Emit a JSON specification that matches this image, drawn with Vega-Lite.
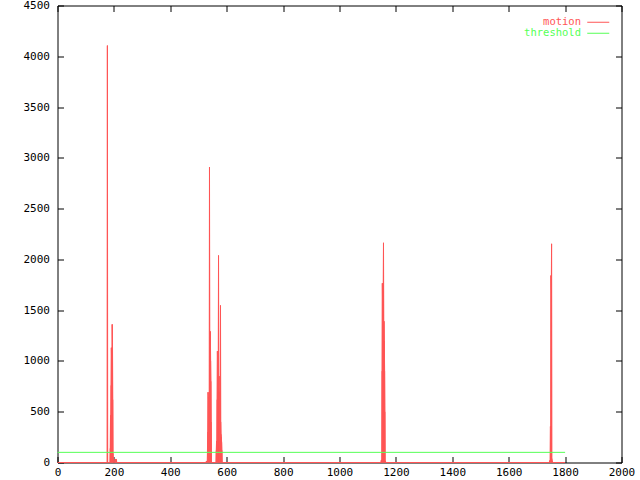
{
  "$schema": "https://vega.github.io/schema/vega-lite/v6.json",
  "width": 564,
  "height": 457,
  "autosize": {"type": "none"},
  "padding": {"left": 57.5, "top": 5.5, "right": 18.5, "bottom": 17.5},
  "background": "white",
  "config": {
    "view": {"stroke": "black", "strokeWidth": 1},
    "font": "DejaVu Sans Mono",
    "axis": {
      "grid": false,
      "domain": false,
      "ticks": true,
      "tickColor": "black",
      "tickSize": -6,
      "tickWidth": 1,
      "labelFont": "DejaVu Sans Mono",
      "labelFontSize": 11,
      "labelColor": "black",
      "labelFlush": false,
      "labelOverlap": false,
      "format": "d",
      "title": null
    }
  },
  "datasets": {
    "motion": [
      {"frame": 0, "value": 0},
      {"frame": 176, "value": 0},
      {"frame": 177, "value": 4105},
      {"frame": 178, "value": 0},
      {"frame": 186, "value": 0},
      {"frame": 187, "value": 140},
      {"frame": 188, "value": 463},
      {"frame": 189, "value": 410},
      {"frame": 190, "value": 760},
      {"frame": 191, "value": 1130},
      {"frame": 192, "value": 980},
      {"frame": 193, "value": 720},
      {"frame": 194, "value": 1360},
      {"frame": 195, "value": 1180},
      {"frame": 196, "value": 620},
      {"frame": 197, "value": 90},
      {"frame": 198, "value": 0},
      {"frame": 203, "value": 0},
      {"frame": 204, "value": 28},
      {"frame": 205, "value": 32},
      {"frame": 206, "value": 30},
      {"frame": 207, "value": 31},
      {"frame": 208, "value": 29},
      {"frame": 209, "value": 30},
      {"frame": 210, "value": 0},
      {"frame": 527, "value": 0},
      {"frame": 528, "value": 12},
      {"frame": 529, "value": 15},
      {"frame": 530, "value": 10},
      {"frame": 531, "value": 0},
      {"frame": 533, "value": 300},
      {"frame": 534, "value": 692},
      {"frame": 535, "value": 650},
      {"frame": 536, "value": 580},
      {"frame": 537, "value": 450},
      {"frame": 538, "value": 600},
      {"frame": 539, "value": 2908},
      {"frame": 540, "value": 1290},
      {"frame": 541, "value": 1100},
      {"frame": 542, "value": 1290},
      {"frame": 543, "value": 1000},
      {"frame": 544, "value": 800},
      {"frame": 545, "value": 400},
      {"frame": 546, "value": 0},
      {"frame": 562, "value": 0},
      {"frame": 563, "value": 120},
      {"frame": 564, "value": 210},
      {"frame": 565, "value": 190},
      {"frame": 566, "value": 620},
      {"frame": 567, "value": 1096},
      {"frame": 568, "value": 980},
      {"frame": 569, "value": 700},
      {"frame": 570, "value": 900},
      {"frame": 571, "value": 2038},
      {"frame": 572, "value": 760},
      {"frame": 573, "value": 850},
      {"frame": 574, "value": 700},
      {"frame": 575, "value": 600},
      {"frame": 576, "value": 480},
      {"frame": 577, "value": 500},
      {"frame": 578, "value": 1546},
      {"frame": 579, "value": 400},
      {"frame": 580, "value": 279},
      {"frame": 581, "value": 250},
      {"frame": 582, "value": 200},
      {"frame": 583, "value": 120},
      {"frame": 584, "value": 0},
      {"frame": 1147, "value": 0},
      {"frame": 1148, "value": 20},
      {"frame": 1149, "value": 25},
      {"frame": 1150, "value": 18},
      {"frame": 1151, "value": 900},
      {"frame": 1152, "value": 1765},
      {"frame": 1153, "value": 1500},
      {"frame": 1154, "value": 1200},
      {"frame": 1155, "value": 1700},
      {"frame": 1156, "value": 2163},
      {"frame": 1157, "value": 1391},
      {"frame": 1158, "value": 1391},
      {"frame": 1159, "value": 1200},
      {"frame": 1160, "value": 900},
      {"frame": 1161, "value": 500},
      {"frame": 1162, "value": 20},
      {"frame": 1163, "value": 15},
      {"frame": 1164, "value": 0},
      {"frame": 1744, "value": 0},
      {"frame": 1745, "value": 15},
      {"frame": 1746, "value": 20},
      {"frame": 1747, "value": 25},
      {"frame": 1748, "value": 354},
      {"frame": 1749, "value": 300},
      {"frame": 1750, "value": 1841},
      {"frame": 1751, "value": 1700},
      {"frame": 1752, "value": 2153},
      {"frame": 1753, "value": 40},
      {"frame": 1754, "value": 20},
      {"frame": 1755, "value": 0},
      {"frame": 1800, "value": 0}
    ],
    "threshold": [
      {"frame": 0, "value": 100},
      {"frame": 1800, "value": 100}
    ]
  },
  "resolve": {"axis": {"x": "independent", "y": "independent"}},
  "layer": [
    {
      "data": {"name": "motion"},
      "mark": {"type": "rule", "strokeWidth": 1},
      "encoding": {
        "x": {
          "field": "frame",
          "type": "quantitative",
          "scale": {"domain": [0, 2000], "nice": false, "zero": false},
          "axis": {"orient": "bottom", "values": [0, 200, 400, 600, 800, 1000, 1200, 1400, 1600, 1800, 2000], "labelPadding": 10}
        },
        "y": {
          "field": "value",
          "type": "quantitative",
          "scale": {"domain": [0, 4500], "nice": false},
          "axis": {"orient": "left", "values": [0, 500, 1000, 1500, 2000, 2500, 3000, 3500, 4000, 4500], "labelPadding": 14}
        },
        "y2": {"datum": 0},
        "color": {
          "datum": "motion",
          "scale": {"domain": ["motion", "threshold"], "range": ["#ff5555", "#55ff55"]},
          "legend": {
            "orient": "none",
            "legendX": 535.5,
            "legendY": 11.5,
            "title": null,
            "padding": 0,
            "symbolType": "M-11,0H11",
            "symbolSize": 4,
            "symbolStrokeWidth": 1,
            "labelAlign": "right",
            "labelOffset": -22.5,
            "labelFont": "DejaVu Sans Mono",
            "labelFontSize": 10.5,
            "rowPadding": -0.5,
            "encode": {
              "labels": {"update": {"fill": {"signal": "datum.value === 'motion' ? '#ff5555' : '#55ff55'"}}}
            }
          }
        }
      }
    },
    {
      "data": {"name": "motion"},
      "mark": {"type": "line", "strokeWidth": 1},
      "encoding": {
        "x": {
          "field": "frame",
          "type": "quantitative",
          "axis": {"orient": "top", "labels": false, "values": [0, 200, 400, 600, 800, 1000, 1200, 1400, 1600, 1800, 2000]}
        },
        "y": {
          "field": "value",
          "type": "quantitative",
          "axis": {"orient": "right", "labels": false, "values": [0, 500, 1000, 1500, 2000, 2500, 3000, 3500, 4000, 4500]}
        },
        "order": {"field": "frame", "type": "quantitative"},
        "color": {"datum": "motion"}
      }
    },
    {
      "data": {"name": "threshold"},
      "mark": {"type": "line", "strokeWidth": 1},
      "encoding": {
        "x": {"field": "frame", "type": "quantitative", "axis": null},
        "y": {"field": "value", "type": "quantitative", "axis": null},
        "color": {"datum": "threshold"}
      }
    }
  ]
}
